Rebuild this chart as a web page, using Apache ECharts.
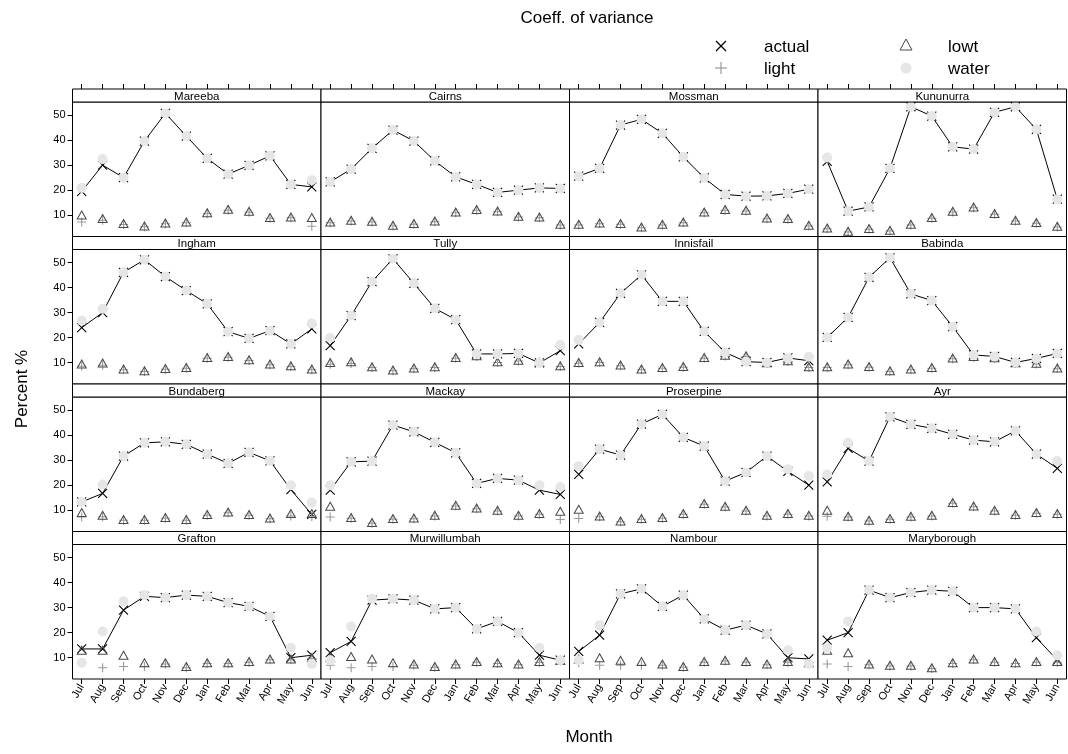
<!DOCTYPE html>
<html>
<head>
<meta charset="utf-8">
<script src="https://cdn.jsdelivr.net/npm/echarts@6/dist/echarts.min.js"></script>
<style>
  html, body { margin: 0; padding: 0; background: #fff; }
  #chart { width: 1068px; height: 754px; }
</style>
</head>
<body>
<div id="chart"></div>
<script>
// Monthly coefficient of variance (%) per site, four rainfall-derived measures
const months = ['Jul','Aug','Sep','Oct','Nov','Dec','Jan','Feb','Mar','Apr','May','Jun'];
const sites = ['Mareeba','Cairns','Mossman','Kununurra',
               'Ingham','Tully','Innisfail','Babinda',
               'Bundaberg','Mackay','Proserpine','Ayr',
               'Grafton','Murwillumbah','Nambour','Maryborough'];
const yTicks = [10, 20, 30, 40, 50];

const actual = [
  [19.5,30,25,39.6,50.7,41.6,32.7,26.4,29.9,33.7,22.3,21.3],
  [23.3,28.4,36.7,44,39.6,31.7,25.3,22.3,19.1,20,20.9,20.7],
  [25.6,28.7,46,48.3,42.7,33.3,24.9,18.3,17.6,17.7,18.7,20.4],
  [31.5,11.6,13.3,28.7,53.3,49.6,37.3,36.4,51.1,53.3,44.3,16.4],
  [24,30,46.1,51.1,44.4,38.8,33.5,22.4,19.7,22.8,17.5,23.5],
  [16.8,28.8,42.4,51.5,41.7,31.7,27.2,13.5,13.5,13.7,9.9,14.8],
  [17.5,26.1,37.7,45.1,34.5,34.5,22.5,14.1,10.4,10.1,11.9,10.8],
  [20.1,28.1,44.1,51.9,37.5,34.8,24.4,13.1,12.5,10.1,11.7,13.7],
  [13.3,16.7,31.6,36.9,37.3,36.3,32.4,28.7,33.1,29.7,18.2,8.3],
  [18,29.3,29.6,44,41.3,37.1,32.9,20.7,22.7,22,18,16.3],
  [24.3,34.4,32,44.4,48.3,39.1,35.6,21.6,25.1,31.6,25.5,20],
  [21.3,34.7,29.6,47.3,44.3,42.7,40.3,38,37.3,41.7,32.4,26.7],
  [13.5,13.5,29,34.5,34,35,34.5,32,30.5,26.5,10,11],
  [12,16.5,33,33.5,33,29.5,30,21.5,24.5,20,11,9],
  [12.5,19,35.5,37.5,30.5,35,25.5,21,23,19.5,10,9.5],
  [17,20,37,34,36,37,36.5,30,30,29.5,18,9]
];
const water = [
  [20.9,32.4,25,39.6,50.7,41.6,32.7,26.4,29.9,33.7,22.3,24],
  [23.3,28.4,36.7,44,39.6,31.7,25.3,22.3,19.1,20,20.9,20.7],
  [25.6,28.7,46,48.3,42.7,33.3,24.9,18.3,17.6,17.7,18.7,20.4],
  [33,11.6,13.3,28.7,53.3,49.6,37.3,36.4,51.1,53.3,44.3,16.4],
  [26.8,31.5,46.1,51.1,44.4,38.8,33.5,22.4,19.7,22.8,17.5,25.7],
  [19.9,28.8,42.4,51.5,41.7,31.7,27.2,13.5,13.5,13.7,9.9,17.1],
  [19.1,26.1,37.7,45.1,34.5,34.5,22.5,14.1,10.4,10.1,11.9,12.4],
  [20.1,28.1,44.1,51.9,37.5,34.8,24.4,13.1,12.5,10.1,11.7,13.7],
  [13.3,20.3,31.6,36.9,37.3,36.3,32.4,28.7,33.1,29.7,20,13.1],
  [20,29.3,29.6,44,41.3,37.1,32.9,20.7,22.7,22,20,19.3],
  [27.6,34.4,32,44.4,48.3,39.1,35.6,21.6,25.1,31.6,26.4,23.7],
  [24.3,36.9,29.6,47.3,44.3,42.7,40.3,38,37.3,41.7,32.4,29.6],
  [8,20.5,32.5,35,34,35,34.5,32,30.5,26.5,14,7.5],
  [9,22.5,33.5,33.5,33,29.5,30,21.5,24.5,20,14,9],
  [9,23,35.5,37.5,30.5,35,25.5,21,23,19.5,13,7.5],
  [14,24.5,37,34,36,37,36.5,30,30,29.5,20.5,11]
];
const lowt = [
  [10.1,8.7,6.7,5.7,6.9,7.3,11,12.4,11.6,9.1,9.3,9.1],
  [7.3,8,7.6,6,6.7,7.7,11.3,12.3,11.7,9.6,9.3,6.4],
  [6.4,6.9,6.7,5.3,6.4,7.3,11.3,12.3,12,8.9,8.7,6],
  [4.9,3.6,4.7,4,6.4,9.1,11.6,13.3,10.7,8,7.1,5.6],
  [9.5,9.9,7.5,6.8,7.7,8.1,12.1,12.5,11.2,9.5,8.8,7.5],
  [10.1,10.4,8.4,7.1,7.9,8.4,12.1,12.8,10.4,11,10.2,8.8],
  [10.1,10.4,9.1,7.5,8.1,8.5,12.1,13,12.8,10,10.8,8.4],
  [8.4,9.5,8.5,6.8,7.5,8.1,11.9,12.5,12,10,9.8,7.9],
  [9.1,8,6.3,6.3,7.1,6.3,8.3,9.3,8.3,6.9,8.7,8.7],
  [11.6,7.1,5.1,6.7,6.9,8,12,10.9,10,8,8.7,9.6],
  [10.4,7.7,5.7,6.7,7.1,8.7,12.7,11.6,10,8,8.7,8],
  [10,7.6,6,6.7,7.6,8,13.1,11.7,10,8.3,9.1,8.7],
  [13,13,11,8,8,6.5,8,8,8.5,9.5,9.5,10],
  [10,10.5,9.5,8,7.5,6.5,7.5,8.5,8,7.5,8.5,9],
  [9.5,10,9,8.5,7.5,6.5,8.5,9,8.5,7.5,8.5,8],
  [13,12,7.5,7,7,6,8,9.5,8.5,8,8.5,8.5]
];
const light = [
  [7.3,8,6.3,5.4,6.6,7,10.6,12,11.2,8.8,9,5.6],
  [7,7.7,7.3,5.7,6.4,7.4,11,12,11.4,9.3,9,6.1],
  [6.1,6.6,6.4,5,6.1,7,11,12,11.7,8.6,8.4,5.7],
  [4.6,3.3,4.4,3.7,6.1,8.8,11.3,13,10.4,7.7,6.8,5.3],
  [8.6,9,7.2,6.5,7.4,7.8,11.8,12.2,10.9,9.2,8.5,7.2],
  [9.4,9.7,8.1,6.8,7.6,8.1,11.8,12.5,10.1,10.7,9.9,8.5],
  [9.8,10.1,8.8,7.2,7.8,8.2,11.8,12.7,12.5,9.7,10.5,8.1],
  [8.1,9.2,8.2,6.5,7.2,7.8,11.6,12.2,11.7,9.7,9.5,7.6],
  [7.3,7.4,6,6,6.8,6,8,9,8,6.6,7.7,7.5],
  [7.3,6.8,4.8,6.4,6.6,7.7,11.7,10.6,9.7,7.7,8.4,6.3],
  [6.7,7.4,5.4,6.4,6.8,8.4,12.4,11.3,9.7,7.7,8.4,7.7],
  [7.6,7.3,5.7,6.4,7.3,7.7,12.8,11.4,9.7,8,8.8,8.4],
  [8,6,6.5,6.5,7.5,6,7.7,7.7,8.2,9.2,9.2,9.7],
  [7,6,6.5,6.5,7,6.2,7.2,8.2,7.7,7.2,8.2,8.7],
  [8,7,7,7,7,6.2,8.2,8.7,8.2,7.2,8.2,7.7],
  [7.5,6.5,7.2,6.7,6.7,5.7,7.7,9.2,8.2,7.7,8.2,8.2]
];

// panel layout (4 x 4 lattice)
const colLeft = [72.5, 321, 569.5, 818];
const panelW = 248.5;
const rowTop = [89, 236.5, 384, 531.5];
const stripH = 13;
const plotH = 134.5;
const FONT = 'Liberation Sans, Arial, Helvetica, sans-serif';

const X_PATH = 'path://M0 0L10 10M10 0L0 10';
const PLUS_PATH = 'path://M5 0L5 10M0 5L10 5';

const grids = [], xAxes = [], yAxes = [], series = [], graphics = [];
const monthIdx = months.map((m, i) => i + 1);
const pairs = arr => arr.map((v, i) => [monthIdx[i], v]);

sites.forEach((site, i) => {
  const r = Math.floor(i / 4), c = i % 4;
  const left = colLeft[c], top = rowTop[r] + stripH;
  grids.push({
    left: left, top: top, width: panelW, height: plotH,
    show: true, borderColor: '#000', borderWidth: 1, backgroundColor: '#fff'
  });
  const isBottom = r === 3, isTop = r === 0, isLeft = c === 0;
  xAxes.push({
    type: 'value', gridIndex: i, min: 0.56, max: 12.44, position: 'bottom',
    axisLine: { show: false },
    splitLine: { show: false },
    axisTick: { show: isBottom, customValues: monthIdx, length: 5, lineStyle: { color: '#000' } },
    axisLabel: {
      show: isBottom, customValues: monthIdx, rotate: 60, margin: 6,
      formatter: v => months[Math.round(v) - 1],
      fontFamily: FONT, fontSize: 11, color: '#000'
    }
  });
  yAxes.push({
    type: 'value', gridIndex: i, min: 1.5, max: 55.2,
    axisLine: { show: false },
    splitLine: { show: false },
    axisTick: { show: isLeft, customValues: yTicks, length: 5, lineStyle: { color: '#000' } },
    axisLabel: { show: isLeft, customValues: yTicks, margin: 7, fontFamily: FONT, fontSize: 11, color: '#000' }
  });
  const xi = xAxes.length - 1;
  if (isTop) {
    xAxes.push({
      type: 'value', gridIndex: i, min: 0.56, max: 12.44, position: 'top', offset: stripH,
      axisLine: { show: false }, splitLine: { show: false },
      axisTick: { show: true, customValues: monthIdx, length: 5, lineStyle: { color: '#000' } },
      axisLabel: { show: false }
    });
  }
  const common = { xAxisIndex: xi, yAxisIndex: i, silent: true, animation: false };
  series.push(Object.assign({
    name: 'actual', type: 'line', data: pairs(actual[i]), z: 2,
    symbol: X_PATH, symbolSize: 9, showSymbol: true,
    lineStyle: { color: '#000', width: 1 },
    itemStyle: { color: 'transparent', borderColor: '#000', borderWidth: 1.1, opacity: 1 }
  }, common));
  series.push(Object.assign({
    name: 'light', type: 'scatter', data: pairs(light[i]), z: 3,
    symbol: PLUS_PATH, symbolSize: 9,
    itemStyle: { color: 'transparent', borderColor: '#9a9a9a', borderWidth: 1.1, opacity: 1 }
  }, common));
  series.push(Object.assign({
    name: 'lowt', type: 'scatter', data: pairs(lowt[i]), z: 4,
    symbol: 'triangle', symbolSize: [9, 8],
    itemStyle: { color: 'transparent', borderColor: '#4a4a4a', borderWidth: 1, opacity: 1 }
  }, common));
  series.push(Object.assign({
    name: 'water', type: 'scatter', data: pairs(water[i]), z: 5,
    symbol: 'circle', symbolSize: 10,
    itemStyle: { color: '#e6e6e6', opacity: 1 }
  }, common));

  // strip with site name
  graphics.push({
    type: 'rect', shape: { x: left, y: rowTop[r], width: panelW, height: stripH },
    style: { fill: '#fff', stroke: '#000', lineWidth: 1 }, z: 10
  });
  graphics.push({
    type: 'text', x: left + panelW / 2, y: rowTop[r] + stripH / 2 + 1, z: 11,
    style: { text: site, fontFamily: FONT, fontSize: 11.5, fill: '#000', align: 'center', verticalAlign: 'middle' }
  });
});

// titles
graphics.push({
  type: 'text', x: 587, y: 18, z: 11,
  style: { text: 'Coeff. of variance', fontFamily: FONT, fontSize: 17, fill: '#000', align: 'center', verticalAlign: 'middle' }
});
graphics.push({
  type: 'text', x: 589, y: 737, z: 11,
  style: { text: 'Month', fontFamily: FONT, fontSize: 17, fill: '#000', align: 'center', verticalAlign: 'middle' }
});
graphics.push({
  type: 'text', x: 22, y: 389, rotation: Math.PI / 2, z: 11,
  style: { text: 'Percent %', fontFamily: FONT, fontSize: 17, fill: '#000', align: 'center', verticalAlign: 'middle' }
});

// key
const keyText = (t, x, y) => ({
  type: 'text', x: x, y: y, z: 11,
  style: { text: t, fontFamily: FONT, fontSize: 17, fill: '#000', align: 'left', verticalAlign: 'middle' }
});
graphics.push({ type: 'line', shape: { x1: 716, y1: 41, x2: 726, y2: 51 }, style: { stroke: '#000', lineWidth: 1.2 } });
graphics.push({ type: 'line', shape: { x1: 726, y1: 41, x2: 716, y2: 51 }, style: { stroke: '#000', lineWidth: 1.2 } });
graphics.push(keyText('actual', 764, 47));
graphics.push({ type: 'line', shape: { x1: 721, y1: 62, x2: 721, y2: 74 }, style: { stroke: '#9a9a9a', lineWidth: 1.2 } });
graphics.push({ type: 'line', shape: { x1: 715, y1: 68, x2: 727, y2: 68 }, style: { stroke: '#9a9a9a', lineWidth: 1.2 } });
graphics.push(keyText('light', 764, 69));
graphics.push({ type: 'polygon', shape: { points: [[906, 39], [912, 50], [900, 50]] }, style: { fill: 'none', stroke: '#4a4a4a', lineWidth: 1 } });
graphics.push(keyText('lowt', 948, 47));
graphics.push({ type: 'circle', shape: { cx: 906, cy: 68, r: 5.5 }, style: { fill: '#e6e6e6' } });
graphics.push(keyText('water', 948, 69));

const chart = echarts.init(document.getElementById('chart'), null, { renderer: 'canvas' });
chart.setOption({
  backgroundColor: '#fff',
  animation: false,
  textStyle: { fontFamily: FONT },
  grid: grids,
  xAxis: xAxes,
  yAxis: yAxes,
  series: series,
  graphic: { elements: graphics }
});
</script>
</body>
</html>
